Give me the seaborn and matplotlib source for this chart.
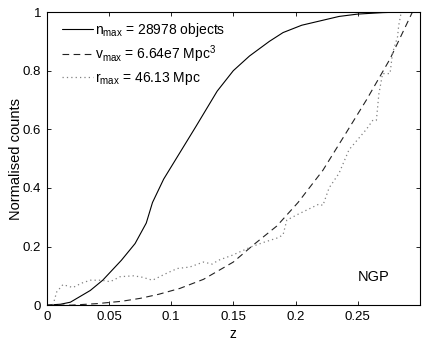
import numpy as np
import pandas as pd
import seaborn as sns
import matplotlib
matplotlib.use('Agg')
import matplotlib.pyplot as plt

# values
z_n = [0, 0.011, 0.019, 0.035, 0.045, 0.06, 0.071, 0.08, 0.085, 0.094,
       0.107, 0.12, 0.137, 0.15, 0.163, 0.179, 0.19, 0.205, 0.22, 0.235,
       0.25, 0.27, 0.285, 0.295]
n_cnt = [0, 0.003, 0.01, 0.05, 0.085, 0.153, 0.21, 0.28, 0.35, 0.43,
         0.52, 0.61, 0.73, 0.80, 0.85, 0.90, 0.93, 0.955, 0.97, 0.985,
         0.993, 0.998, 1.0, 1.0]

z_v = [0, 0.02, 0.04, 0.06, 0.075, 0.09, 0.107, 0.126, 0.15, 0.166,
       0.185, 0.202, 0.222, 0.241, 0.257, 0.276, 0.294]
v_cnt = [0, 0.0, 0.005, 0.013, 0.023, 0.037, 0.057, 0.088, 0.147, 0.205,
         0.27, 0.35, 0.46, 0.59, 0.70, 0.84, 1.0]

z_r = [0.005, 0.008, 0.013, 0.021, 0.028, 0.035, 0.044, 0.051, 0.059, 0.07,
       0.077, 0.085, 0.097, 0.105, 0.115, 0.126, 0.133, 0.138, 0.149, 0.165,
       0.175, 0.186, 0.19, 0.193, 0.202, 0.219, 0.222, 0.227, 0.235, 0.243,
       0.257, 0.262, 0.265, 0.267, 0.27, 0.276, 0.278, 0.282, 0.283, 0.285,
       0.292]
r_cnt = [0, 0.045, 0.07, 0.06, 0.075, 0.085, 0.085, 0.08, 0.097, 0.10,
         0.095, 0.085, 0.11, 0.125, 0.13, 0.147, 0.14, 0.153, 0.17, 0.2,
         0.215, 0.23, 0.24, 0.29, 0.31, 0.345, 0.34, 0.40, 0.45, 0.53,
         0.60, 0.63, 0.63, 0.72, 0.79, 0.79, 0.86, 0.915, 0.955, 1.0,
         1.0]

labels = [r'n$_{\rm max}$ = 28978 objects',
          r'v$_{\rm max}$ = 6.64e7 Mpc$^3$',
          r'r$_{\rm max}$ = 46.13 Mpc']
xticks = [0, 0.05, 0.1, 0.15, 0.2, 0.25]
xticklabels = ['0', '0.05', '0.1', '0.15', '0.2', '0.25']
yticks = [0, 0.2, 0.4, 0.6, 0.8, 1]
yticklabels = ['0', '0.2', '0.4', '0.6', '0.8', '1']

sns.set_style('ticks')
plt.rcParams['font.family'] = ['Liberation Sans', 'DejaVu Sans']
plt.rcParams['mathtext.fontset'] = 'custom'
plt.rcParams['mathtext.rm'] = 'Liberation Sans'
plt.rcParams['mathtext.it'] = 'Liberation Sans'
plt.rcParams['xtick.direction'] = 'in'
plt.rcParams['ytick.direction'] = 'in'
plt.rcParams['text.color'] = 'black'
plt.rcParams['axes.labelcolor'] = 'black'
plt.rcParams['xtick.color'] = 'black'
plt.rcParams['ytick.color'] = 'black'

fig = plt.figure(figsize=(4.25, 3.44), dpi=100)
ax = fig.add_axes([0.110, 0.113, 0.878, 0.852])

df_n = pd.DataFrame({'z': z_n, 'c': n_cnt})
df_v = pd.DataFrame({'z': z_v, 'c': v_cnt})
df_r = pd.DataFrame({'z': z_r, 'c': r_cnt})

sns.lineplot(data=df_n, x='z', y='c', ax=ax, color='black', lw=0.8,
             label=labels[0], sort=False)
sns.lineplot(data=df_v, x='z', y='c', ax=ax, color='#222222', lw=0.8,
             linestyle=(0, (6, 4)), label=labels[1], sort=False)
sns.lineplot(data=df_r, x='z', y='c', ax=ax, color='#808080', lw=0.9,
             linestyle=(0, (1, 2.5)), label=labels[2], sort=False)

ax.set_xlim(0, 0.3)
ax.set_ylim(0, 1)
ax.set_xticks(xticks)
ax.set_xticklabels(xticklabels)
ax.set_yticks(yticks)
ax.set_yticklabels(yticklabels)
ax.tick_params(labelsize=9.5, length=3, width=0.6, top=True, right=True,
               pad=4)
for s in ax.spines.values():
    s.set_linewidth(0.8)
    s.set_color('black')

ax.set_xlabel('z', fontsize=10, labelpad=3)
ax.set_ylabel('Normalised counts', fontsize=10.5, labelpad=0)

ax.text(0.263, 0.095, 'NGP', fontsize=10.5, ha='center', va='center')

leg = ax.legend(loc='upper left', frameon=False, fontsize=10,
                handlelength=2.25, handletextpad=0.15, labelspacing=0.35,
                borderaxespad=0.3, bbox_to_anchor=(0.015, 1.003))

fig.savefig('out.png', dpi=100)
